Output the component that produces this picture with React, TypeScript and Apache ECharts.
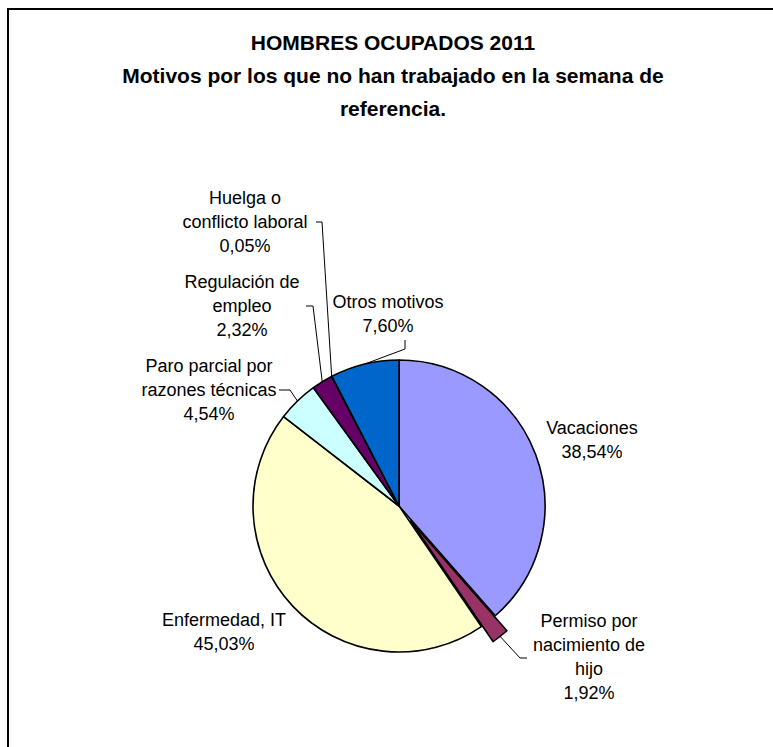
import React, { useEffect, useRef } from 'react';
import * as echarts from 'echarts';

// ---- data ----
const categories = [
  'Vacaciones',
  'Permiso por\nnacimiento de\nhijo',
  'Enfermedad, IT',
  'Paro parcial por\nrazones técnicas',
  'Regulación de\nempleo',
  'Huelga o\nconflicto laboral',
  'Otros motivos',
];
const values = [38.54, 1.92, 45.03, 4.54, 2.32, 0.05, 7.6];
const exploded = [false, true, false, false, false, false, false];
const titleLines = [
  'HOMBRES OCUPADOS 2011',
  'Motivos por los que no han trabajado en la semana de',
  'referencia.',
];

// ---- style / layout ----
const colors = ['#9999FF', '#993366', '#FFFFCC', '#CCFFFF', '#660066', '#FF8080', '#0066CC'];
const labelCenters: number[][] = [
  [592, 440],
  [589, 657],
  [224, 632],
  [209, 390],
  [242, 306],
  [245, 222],
  [388, 314],
];
const leaderPaths: (number[][] | null)[] = [
  null,
  [[520, 658], [527, 658]],
  null,
  [[290, 390], [279, 390]],
  [[313, 306], [306, 306]],
  [[322, 222], [316, 222]],
  [[405, 349], [405, 340]],
];

const FONT = '"Liberation Sans", Arial, sans-serif';
const CENTER = [399, 506];
const RADIUS = 146;
const EXPLODE = 19;

export default function App() {
  const ref = useRef<HTMLDivElement>(null);
  useEffect(() => {
    if (!ref.current) return;
    const chart = echarts.init(ref.current, undefined, { renderer: 'svg' });

    const total = values.reduce((a, b) => a + b, 0);
    const offsets = values.map((v, i) => {
      if (!exploded[i]) return [0, 0];
      const before = values.slice(0, i).reduce((a, b) => a + b, 0);
      const th = ((before + v / 2) / total) * 2 * Math.PI;
      return [Math.sin(th) * EXPLODE, -Math.cos(th) * EXPLODE];
    });

    const baseSeries: any = {
      type: 'pie',
      center: CENTER,
      radius: RADIUS,
      startAngle: 90,
      clockwise: true,
      avoidLabelOverlap: false,
      emphasis: { disabled: true },
      silent: true,
      itemStyle: { borderColor: '#000', borderWidth: 1.6 },
      data: categories.map((name, i) => ({
        name,
        value: values[i],
        itemStyle: exploded[i]
          ? { color: 'rgba(0,0,0,0)', borderWidth: 0 }
          : { color: colors[i] },
        labelLine: { show: !!leaderPaths[i] },
      })),
      label: {
        show: true,
        position: 'outside',
        formatter: (p: any) =>
          `${p.name}\n${Number(p.value).toFixed(2).replace('.', ',')}%`,
        fontFamily: FONT,
        fontSize: 18,
        lineHeight: 24,
        color: '#000',
        align: 'center',
      },
      labelLine: {
        show: true,
        length: 10,
        length2: 10,
        lineStyle: { color: '#000', width: 1 },
      },
      labelLayout: (p: any) => {
        const i = p.dataIndex;
        const c = labelCenters[i];
        const res: any = { x: c[0], y: c[1], align: 'center', verticalAlign: 'middle' };
        const lp = leaderPaths[i];
        if (lp && p.labelLinePoints) {
          const a = p.labelLinePoints[0];
          const o = offsets[i];
          res.labelLinePoints = [[a[0] + o[0], a[1] + o[1]], lp[0], lp[1]];
        }
        return res;
      },
    };

    const explodedSeries = values
      .map((_, k) => k)
      .filter((k) => exploded[k])
      .map((k) => ({
        type: 'pie',
        center: [CENTER[0] + offsets[k][0], CENTER[1] + offsets[k][1]],
        radius: RADIUS,
        startAngle: 90,
        clockwise: true,
        silent: true,
        emphasis: { disabled: true },
        label: { show: false },
        labelLine: { show: false },
        data: categories.map((name, i) => ({
          name,
          value: values[i],
          itemStyle:
            i === k
              ? { color: colors[i], borderColor: '#000', borderWidth: 1.6 }
              : { color: 'rgba(0,0,0,0)', borderWidth: 0 },
        })),
      }));

    const option: any = {
      animation: false,
      backgroundColor: '#ffffff',
      graphic: [
        {
          type: 'rect',
          silent: true,
          z: -1,
          shape: { x: 8, y: 9, width: 800, height: 800 },
          style: { fill: 'none', stroke: '#000', lineWidth: 2 },
        },
        {
          type: 'text',
          silent: true,
          x: 393,
          y: 26,
          style: {
            text: titleLines.join('\n'),
            align: 'center',
            verticalAlign: 'top',
            fontFamily: FONT,
            fontSize: 21,
            fontWeight: 'bold',
            lineHeight: 33,
            fill: '#000',
          },
        },
      ],
      series: [baseSeries, ...explodedSeries],
    };
    chart.setOption(option);
    return () => chart.dispose();
  }, []);
  return (
    <div
      ref={ref}
      style={{ position: 'fixed', left: 0, top: 0, width: 773, height: 747, background: '#fff' }}
    />
  );
}
